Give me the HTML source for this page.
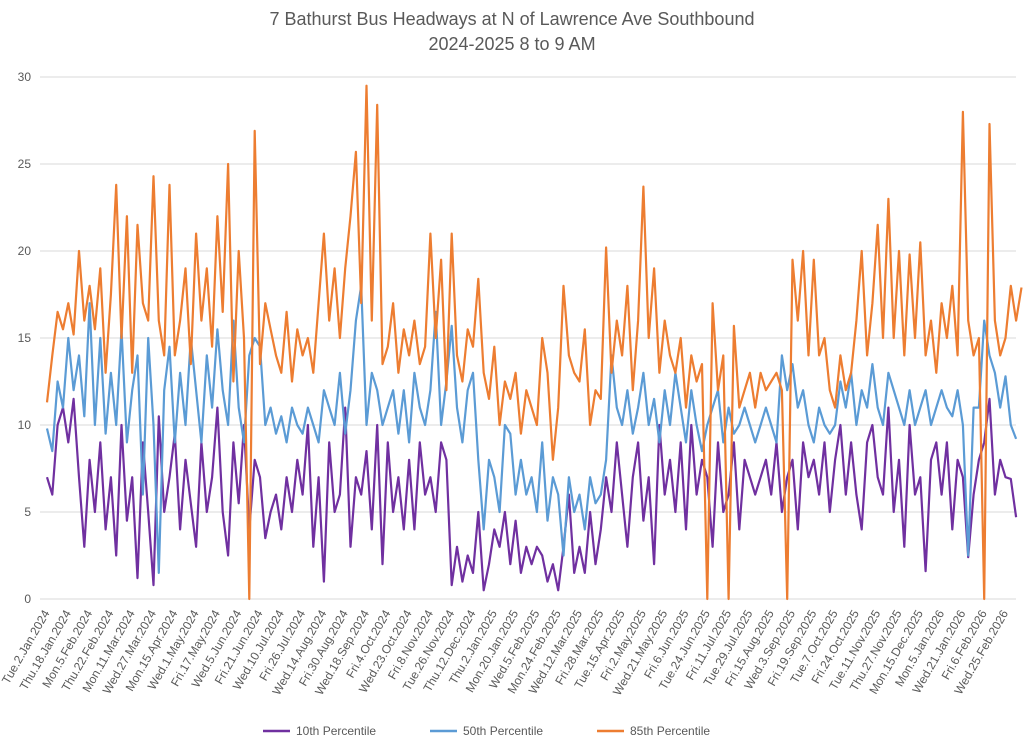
<!DOCTYPE html>
<html><head><meta charset="utf-8"><style>
body{margin:0;background:#fff;}
svg{display:block;font-family:"Liberation Sans",sans-serif;}
</style></head><body>
<svg id="chart" width="1024" height="739" viewBox="0 0 1024 739" xmlns="http://www.w3.org/2000/svg">
<text x="512" y="25" text-anchor="middle" font-size="18" fill="#595959">7 Bathurst Bus Headways at N of Lawrence Ave Southbound</text>
<text x="512" y="50" text-anchor="middle" font-size="18" fill="#595959">2024-2025 8 to 9 AM</text>
<g id="grid"></g><g id="xl"></g><g id="series"></g>
<g font-size="12" fill="#595959">
<line x1="263" y1="731" x2="290" y2="731" stroke="#7030a0" stroke-width="2.5"/><text x="296" y="735">10th Percentile</text>
<line x1="430" y1="731" x2="457" y2="731" stroke="#5b9bd5" stroke-width="2.5"/><text x="463" y="735">50th Percentile</text>
<line x1="597" y1="731" x2="624" y2="731" stroke="#ed7d31" stroke-width="2.5"/><text x="630" y="735">85th Percentile</text>
</g>
</svg>
<script>
const tickLabels=["Tue.2.Jan.2024","Thu.18.Jan.2024","Mon.5.Feb.2024","Thu.22.Feb.2024","Mon.11.Mar.2024","Wed.27.Mar.2024","Mon.15.Apr.2024","Wed.1.May.2024","Fri.17.May.2024","Wed.5.Jun.2024","Fri.21.Jun.2024","Wed.10.Jul.2024","Fri.26.Jul.2024","Wed.14.Aug.2024","Fri.30.Aug.2024","Wed.18.Sep.2024","Fri.4.Oct.2024","Wed.23.Oct.2024","Fri.8.Nov.2024","Tue.26.Nov.2024","Thu.12.Dec.2024","Thu.2.Jan.2025","Mon.20.Jan.2025","Wed.5.Feb.2025","Mon.24.Feb.2025","Wed.12.Mar.2025","Fri.28.Mar.2025","Tue.15.Apr.2025","Fri.2.May.2025","Wed.21.May.2025","Fri.6.Jun.2025","Tue.24.Jun.2025","Fri.11.Jul.2025","Tue.29.Jul.2025","Fri.15.Aug.2025","Wed.3.Sep.2025","Fri.19.Sep.2025","Tue.7.Oct.2025","Fri.24.Oct.2025","Tue.11.Nov.2025","Thu.27.Nov.2025","Mon.15.Dec.2025","Mon.5.Jan.2026","Wed.21.Jan.2026","Fri.6.Feb.2026","Wed.25.Feb.2026"];
const yTicks=[0,5,10,15,20,25,30];
const p85=[11.3,14,16.5,15.5,17,15.2,20,16,18,15.5,19,13,17.5,23.8,15,22,13,21.5,17,16,24.3,16,14,23.8,14,16,19,13.5,21,16,19,14.5,22,16.5,25,12.5,20,15,0,26.9,13.5,17,15.5,14,13,16.5,12.5,15.5,14,15,13,17,21,16,19,15,19,22,25.7,17,29.5,16,28.4,13.5,14.5,17,13,15.5,14,16,13.5,14.5,21,15,19.5,12,21,14,12.5,15.5,14.5,18.4,13,11.5,14.5,10,12.5,11.5,13,9.5,12,11,10,15,13,8,11,18,14,13,12.5,15.5,10,12,11.5,20.2,13,16,14,18,12,16,23.7,15,19,13,16,14,13,15,11,14,12.5,13.5,0,17,12,14,0,15.7,11,12,13,11,13,12,12.5,13,12,0,19.5,16,20,14,19.5,14,15,12,11,14,12,13,16,20,14,17,21.5,15,23,15,20,14,19.8,15,20.5,14,16,13,17,15,18,14,28,16,14,15,0,27.3,16,14,15,18,16,17.9];
const p50=[9.8,8.5,12.5,11,15,12,14,10.5,17,10,15,9.5,13,10,15.5,9,12,14,6,15,10,1.5,12,14.5,9,13,10,15,12,9,14,11,15.5,12,10,16,11,9,14,15,14.5,10,11,9.5,10.5,9,11,10,9.5,11,10,9,12,11,10,13,9.5,12,16,18,10,13,12,10,11,12,9.5,12,9,13,11,10,12,16.5,10,12.5,15.7,11,9,12,13,8,4,8,7,5,10,9.5,6,8,6,7,5,9,4.5,7,6,2.5,7,5,6,4,7,5.5,6,8,14,11,10,12,9.5,11,13,10,11.5,9,12,10,13,11,9,12,10,8.5,10,11,12,9,11,9.5,10,11,10,9,10,11,10,9,14,12,13.5,11,12,10,9,11,10,9.5,10,12.5,11,13,10,12,11,13.5,11,10,13,12,11,10,12,10,11,12,10,11,12,11,10.5,12,10,2.5,11,11,16,14,13,11,12.8,10,9.2];
const p10=[7,6,10,11,9,11.5,7,3,8,5,9,4,7,2.5,10,4.5,7,1.2,9,5,0.8,10.5,5,7,9.5,4,8,5.5,3,9,5,7,11,5,2.5,9,5.5,10,4,8,7,3.5,5,6,4,7,5,8,6,10,3,7,1,9,5,6,11,3,7,6,8.5,4,10,2,9,5,7,4,8,4,9,6,7,5,9,8,0.8,3,1,2.5,1.5,5,0.5,2,4,3,5,2,4.5,1.5,3,2,3,2.5,1,2,0.5,3,6,1.5,3,1.5,5,2,4,7,5,9,6,3,7,9,4.5,7,2,10,6,8,5,9,4,10,6,8,7,3,9,5,6,9,4,8,7,6,7,8,6,9,5,7,8,4,9,7,8,6,9,5,8,10,6,9,6,4,9,10,7,6,11,5,8,3,10,6,7,1.6,8,9,6,9,4,8,7,2.4,6,8,9,11.5,6,8,7,6.9,4.7];
const NS="http://www.w3.org/2000/svg";
const X0=47,DX=5.325,Y0=599,YS=17.4;
const xs=i=>X0+i*DX, ys=v=>Y0-v*YS;
const grid=document.getElementById('grid');
yTicks.forEach(t=>{
 const l=document.createElementNS(NS,'line');
 l.setAttribute('x1',40);l.setAttribute('x2',1016);l.setAttribute('y1',ys(t));l.setAttribute('y2',ys(t));
 l.setAttribute('stroke','#d9d9d9');l.setAttribute('stroke-width','1');
 
 
 grid.appendChild(l);
 const tx=document.createElementNS(NS,'text');
 tx.setAttribute('x',31);tx.setAttribute('y',ys(t)+4);tx.setAttribute('text-anchor','end');
 tx.setAttribute('font-size','12');tx.setAttribute('fill','#595959');tx.textContent=t;
 
 
 grid.appendChild(tx);
});
const xl=document.getElementById('xl');
tickLabels.forEach((s,k)=>{
 const x=xs(k*4)+3;
 const tx=document.createElementNS(NS,'text');
 tx.setAttribute('transform','translate('+x+',613) rotate(-60)');
 tx.setAttribute('text-anchor','end');tx.setAttribute('font-size','12');tx.setAttribute('fill','#595959');
 tx.textContent=s;
 
 
 xl.appendChild(tx);
});
const sg=document.getElementById('series');
[[p10,'#7030a0','series-10th'],[p50,'#5b9bd5','series-50th'],[p85,'#ed7d31','series-85th']].forEach(([d,c,n])=>{
 const p=document.createElementNS(NS,'polyline');
 p.setAttribute('points',d.map((v,i)=>xs(i).toFixed(1)+','+ys(v).toFixed(1)).join(' '));
 p.setAttribute('fill','none');p.setAttribute('stroke',c);p.setAttribute('stroke-width','2.2');p.setAttribute('stroke-linejoin','round');
 
 
 sg.appendChild(p);
});
</script>
</body></html>
